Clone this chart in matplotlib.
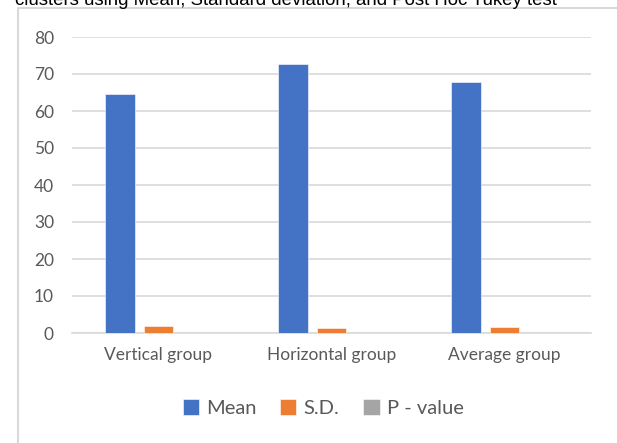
import numpy as np
import matplotlib.pyplot as plt
from matplotlib.lines import Line2D

groups = ["Vertical group", "Horizontal group", "Average group"]
mean_vals = [64.6, 72.6, 67.9]
sd_vals = [2.0, 1.3, 1.6]
p_vals = [0.0, 0.0, 0.0]
series_names = ["Mean", "S.D.", "P - value"]
colors = ["#4472C4", "#ED7D31", "#A5A5A5"]
yticks = [0, 10, 20, 30, 40, 50, 60, 70, 80]

txt = "#595959"
fig = plt.figure(figsize=(6.17, 4.43), dpi=100)
ax = fig.add_axes([72 / 617, 1 - 333 / 443, (591 - 72) / 617, (333 - 37) / 443])

# chart frame: only left and top edges are visible in the screenshot
fx, fy = 18 / 617, 1 - 8 / 443
fig.lines.append(Line2D([fx, fx, 1.0], [0.0, fy, fy], transform=fig.transFigure,
                        color="#D9D9D9", linewidth=1.5, zorder=0))

x = np.arange(len(groups))
w = 0.173
offsets = [-0.22, 0, 0.22]
for vals, name, c, off in zip([mean_vals, sd_vals, p_vals], series_names, colors, offsets):
    ax.bar(x + off, vals, w, color=c, label=name, edgecolor="white", linewidth=0.4, zorder=3)

ax.set_xlim(-0.5, 2.5)
ax.set_ylim(0, 80)
ax.set_yticks(yticks)
ax.set_xticks(x)
ax.set_xticklabels(groups)
ax.grid(axis="y", color="#D9D9D9", linewidth=1.2, zorder=0)
for s in ["top", "right", "left"]:
    ax.spines[s].set_visible(False)
ax.spines["bottom"].set_color("#D9D9D9")
ax.spines["bottom"].set_linewidth(1.2)
ax.tick_params(axis="both", length=0, colors=txt, labelsize=12.5)
ax.tick_params(axis="y", pad=13)
ax.tick_params(axis="x", pad=10)
for lab in ax.get_xticklabels() + ax.get_yticklabels():
    lab.set_fontfamily("Lato")

leg = fig.legend(loc="center", bbox_to_anchor=(323 / 617, 1 - 408 / 443), ncol=3, frameon=False,
                 handlelength=0.8, handleheight=0.8, handletextpad=0.35, columnspacing=1.2,
                 prop={"family": "Lato", "size": 14.5})
for t in leg.get_texts():
    t.set_color(txt)

fig.text(15 / 617, 1 - 5 / 443, "clusters using Mean, Standard deviation, and Post Hoc Tukey test",
         fontfamily="Liberation Sans", fontsize=13.4, va="baseline", ha="left", color="black")

fig.savefig("out.png", dpi=100)
